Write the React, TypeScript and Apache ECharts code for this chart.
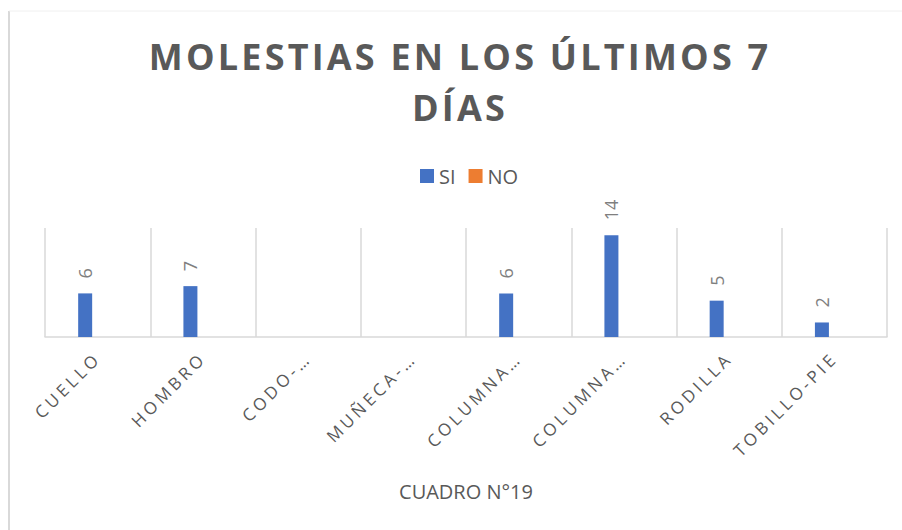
import React, { useEffect, useRef } from "react";
import * as echarts from "echarts";

const titleLines = ["MOLESTIAS EN LOS ÚLTIMOS 7", "DÍAS"];
const categories = ["CUELLO", "HOMBRO", "CODO-…", "MUÑECA-…", "COLUMNA…", "COLUMNA…", "RODILLA", "TOBILLO-PIE"];
const seriesNames = ["SI", "NO"];
const siValues: (number | null)[] = [6, 7, null, null, 6, 14, 5, 2];
const noValues: (number | null)[] = [null, null, null, null, null, null, null, null];
const axisTitle = "CUADRO N°19";

const FONT = "'Open Sans', 'Noto Sans', sans-serif";

export default function App() {
  const ref = useRef<HTMLDivElement>(null);
  useEffect(() => {
    if (!ref.current) return;
    const chart = echarts.init(ref.current, null, { renderer: "svg" });
    const option: any = {
      animation: false,
      backgroundColor: "#ffffff",
      graphic: [
        { type: "line", shape: { x1: 9, y1: 11, x2: 9, y2: 540 }, style: { stroke: "#d9d9d9", lineWidth: 2 } },
        { type: "line", shape: { x1: 9, y1: 11, x2: 910, y2: 11 }, style: { stroke: "#f0f0f0", lineWidth: 1 } },
        {
          type: "text",
          x: 460,
          y: 31,
          style: {
            text: titleLines.join("\n"),
            align: "center",
            verticalAlign: "top",
            fontFamily: FONT,
            fontWeight: "bold",
            fontSize: 36,
            lineHeight: 51,
            fill: "#595959",
          },
        },
      ],
      legend: {
        data: seriesNames,
        left: 415,
        top: 161,
        itemWidth: 14,
        itemHeight: 14,
        itemGap: 13,
        icon: "rect",
        textStyle: { fontFamily: FONT, fontSize: 20, color: "#595959" },
      },
      grid: { left: 45, right: 15, top: 228, bottom: 193, containLabel: false },
      xAxis: {
        type: "category",
        data: categories,
        axisTick: { show: false },
        axisLine: { lineStyle: { color: "#d9d9d9", width: 1.5 } },
        splitLine: { show: true, lineStyle: { color: "#d9d9d9", width: 1.5 } },
        axisLabel: {
          interval: 0,
          rotate: 45,
          margin: 18,
          fontFamily: FONT,
          fontSize: 17,
          color: "#595959",
        },
        name: axisTitle,
        nameLocation: "middle",
        nameGap: 144,
        nameTextStyle: { fontFamily: FONT, fontSize: 20, color: "#595959" },
      },
      yAxis: { type: "value", min: 0, max: 15, show: false },
      series: [
        {
          name: seriesNames[0],
          type: "bar",
          data: siValues,
          barWidth: 14,
          barGap: "78%",
          itemStyle: { color: "#4472C4" },
          label: {
            show: true,
            position: "top",
            distance: 15,
            rotate: 90,
            align: "left",
            verticalAlign: "middle",
            fontFamily: FONT,
            fontSize: 18,
            color: "#7f7f7f",
          },
        },
        {
          name: seriesNames[1],
          type: "bar",
          data: noValues,
          barWidth: 14,
          itemStyle: { color: "#ED7D31" },
        },
      ],
    };
    chart.setOption(option);
    const applySpacing = () => {
      if (!ref.current) return;
      ref.current.querySelectorAll("text").forEach((t) => {
        const s = (t.textContent || "").trim();
        if (titleLines.includes(s)) (t as any).style.letterSpacing = "3.2px";
        else if (categories.includes(s)) (t as any).style.letterSpacing = "3.6px";
      });
    };
    applySpacing();
    chart.on("finished", applySpacing);
    return () => chart.dispose();
  }, []);
  return <div ref={ref} style={{ position: "absolute", left: 0, top: 0, width: 902, height: 530 }} />;
}
